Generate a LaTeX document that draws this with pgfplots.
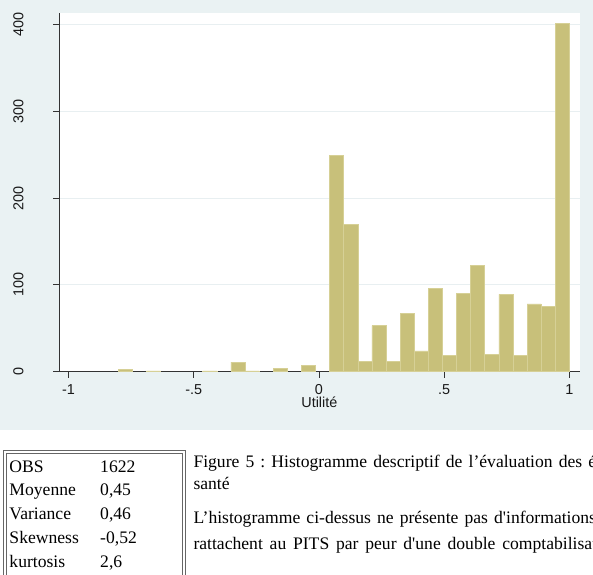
\documentclass[border=0pt]{standalone}
\usepackage{fontspec}
\setmainfont{Liberation Serif}
\newfontfamily\arial{Liberation Sans}
\usepackage{pgfplots}
\pgfplotsset{compat=1.18}
\definecolor{bgblue}{RGB}{234,242,243}
\definecolor{gridcol}{RGB}{232,239,241}
\definecolor{khaki}{RGB}{200,192,122}
\definecolor{khakiline}{RGB}{214,208,150}
\newcommand{\tabfont}{\fontsize{17.6bp}{20bp}\selectfont\frenchspacing}
\newcommand{\just}{\spaceskip=6.1bp\relax}
\begin{document}
\begin{tikzpicture}
\useasboundingbox (0bp,0bp) rectangle (593bp,575bp);
\clip (0bp,0bp) rectangle (593bp,575bp);
\fill[bgblue] (0bp,145bp) rectangle (593bp,575bp);
\begin{axis}[
  at={(59.3bp,203.3bp)}, anchor=south west,
  scale only axis, width=520.2bp, height=358.4bp,
  xmin=-1.0367, xmax=1.0407, ymin=0, ymax=412.7,
  enlargelimits=false,
  axis background/.style={fill=white},
  axis lines*=left,
  axis line style={draw=black!80, line width=0.8bp},
  tick align=outside, major tick length=6bp,
  tick style={draw=black!80, line width=0.8bp},
  minor tick num=0,
  xtick={-1,-0.5,0,0.5,1}, xticklabels={-1,-.5,0,.5,1},
  ytick={0,100,200,300,400}, yticklabels={0,100,200,300,400},
  ymajorgrids, grid style={draw=gridcol, line width=0.8bp},
  tick label style={font=\arial\fontsize{14.4bp}{16bp}\selectfont, text=black!90},
  xticklabel style={anchor=base, inner sep=0pt},
  xticklabel shift=17.3bp,
  yticklabel style={rotate=90, anchor=base, inner sep=0pt},
  yticklabel shift=30bp,
  xlabel={Utilité},
  xlabel style={at={(axis description cs:0.5,0)}, anchor=base, inner sep=0pt, yshift=-36.3bp, font=\arial\fontsize{14.4bp}{16bp}\selectfont, text=black!90},
]
\addplot[ybar, bar width=0.0563125, bar shift=0pt, fill=khaki, draw=khakiline, line width=0.5bp] coordinates {
(-0.7738,3) (-0.6612,1) (-0.4360,1) (-0.3233,11) (-0.2670,1) (-0.1544,4) (-0.0418,7)
(0.0708,249) (0.1272,170) (0.1835,12) (0.2398,53) (0.2961,12) (0.3524,67) (0.4087,24)
(0.4650,96) (0.5213,19) (0.5777,90) (0.6340,122) (0.6903,20) (0.7466,89) (0.8029,19)
(0.8592,78) (0.9155,75) (0.9718,401)
};
\end{axis}
% table box
\draw[black!60, line width=1bp] (3.3bp,-10bp) -- (3.3bp,124.3bp) -- (185.3bp,124.3bp) -- (185.3bp,-10bp);
\draw[black!60, line width=1bp] (6.2bp,-10bp) -- (6.2bp,121.7bp) -- (182.6bp,121.7bp) -- (182.6bp,-10bp);
\begin{scope}[every node/.style={anchor=base west, inner sep=0pt, font=\tabfont}]
\node at (9.3bp,102.7bp) {OBS};       \node at (100bp,102.7bp) {1622};
\node at (9.3bp,79.5bp)  {Moyenne};   \node at (100bp,79.5bp)  {0,45};
\node at (9.3bp,55.2bp)  {Variance};  \node at (100bp,55.2bp)  {0,46};
\node at (9.3bp,31.2bp)  {Skewness};  \node at (100bp,31.2bp)  {-0,52};
\node at (9.3bp,7.3bp)   {kurtosis};  \node at (100bp,7.3bp)   {2,6};
\node at (193.3bp,107.7bp) {\just Figure 5 : Histogramme descriptif de l’évaluation des états de};
\node at (193.3bp,85.7bp)  {santé};
\node at (193.3bp,51bp)    {\just L’histogramme ci-dessus ne présente pas d\textquotesingle informations qui se};
\node at (193.3bp,25.7bp)  {\spaceskip=6.8bp\relax rattachent au PITS par peur d\textquotesingle une double comptabilisation};
\end{scope}
\end{tikzpicture}
\end{document}
